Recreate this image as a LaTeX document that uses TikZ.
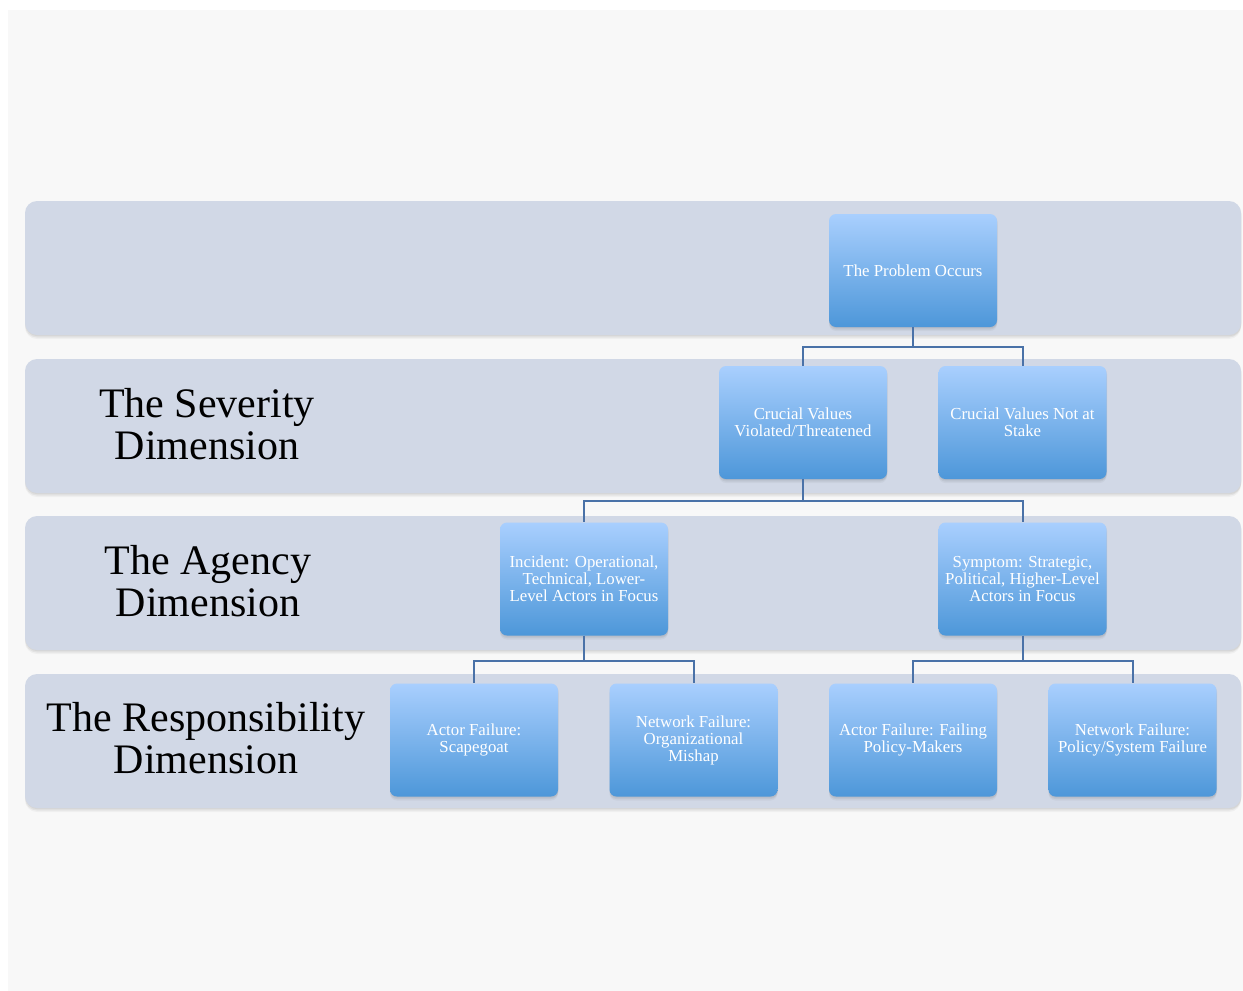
\documentclass[tikz,border=0pt]{standalone}
\usepackage{fontspec}
\setmainfont{Liberation Serif}
\definecolor{bgc}{HTML}{F8F8F8}
\definecolor{bandc}{HTML}{D1D8E6}
\definecolor{boxtop}{HTML}{A9CFFE}
\definecolor{boxmid}{HTML}{8DBDF2}
\definecolor{boxbot}{HTML}{4D97D9}
\definecolor{linec}{HTML}{4A72A8}
\tikzset{
  softshadow/.style={
    preaction={fill=black, fill opacity=0.035, transform canvas={yshift=-4pt}},
    preaction={fill=black, fill opacity=0.05, transform canvas={yshift=-2.5pt}},
    preaction={fill=black, fill opacity=0.05, transform canvas={xshift=0.5pt, yshift=-1.2pt}}},
  band/.style={fill=bandc, rounded corners=12pt, softshadow},
  box/.style={rectangle, rounded corners=7pt, minimum width=168pt, minimum height=113pt,
    inner sep=0pt, softshadow, top color=boxtop, middle color=boxmid, bottom color=boxbot,
    text=white, align=center, font=\fontsize{16.8}{17}\selectfont},
  dimlabel/.style={align=center, font=\fontsize{42}{42}\selectfont, text=black},
  conn/.style={draw=linec, line width=2pt}
}
\begin{document}
\begin{tikzpicture}[x=1pt,y=-1pt]
\useasboundingbox (0,0) rectangle (1243,991);
\fill[white] (0,0) rectangle (1243,991);
\fill[bgc] (8,10) rectangle (1243,991);
% bands
\path[band] (25,201) rectangle (1241,335);
\path[band] (25,359) rectangle (1241,493);
\path[band] (25,516) rectangle (1241,650);
\path[band] (25,674) rectangle (1241,808);
% dimension labels
\node[dimlabel] (sev) at (207,424) {The Severity\\Dimension};
\node[dimlabel] (age) at (208,581) {The Agency\\Dimension};
\node[dimlabel] (res) at (206,738) {The Responsibility\\Dimension};
% junction coordinates
\coordinate (j1) at (913,347);
\coordinate (j2) at (803,501);
\coordinate (j3a) at (585,661);
\coordinate (j3b) at (1023,661);
% boxes
\node[box] (prob) at (913,270.5) {The Problem Occurs};
\node[box] (viol) at (803,422.5) {Crucial Values\\Violated/Threatened};
\node[box] (nots) at (1022.5,422.5) {Crucial Values Not at\\Stake};
\node[box] (inc) at (584,579) {Incident: Operational,\\Technical, Lower-\\Level Actors in Focus};
\node[box] (sym) at (1022.5,579) {Symptom: Strategic,\\Political, Higher-Level\\Actors in Focus};
\node[box] (afs) at (474,740) {Actor Failure:\\Scapegoat};
\node[box] (nfo) at (693.5,740) {Network Failure:\\Organizational\\Mishap};
\node[box] (afp) at (913,740) {Actor Failure: Failing\\Policy-Makers};
\node[box] (nfp) at (1132.5,740) {Network Failure:\\Policy/System Failure};
% connectors
\draw[conn] (prob.south) -- (j1) -| (viol.north);
\draw[conn] (j1) -| (nots.north);
\draw[conn] (viol.south) -- (j2) -| (inc.north);
\draw[conn] (j2) -| (sym.north);
\draw[conn] (inc.south) |- (j3a) -| (afs.north);
\draw[conn] (j3a) -| (nfo.north);
\draw[conn] (sym.south) |- (j3b) -| (afp.north);
\draw[conn] (j3b) -| (nfp.north);
\end{tikzpicture}
\end{document}
